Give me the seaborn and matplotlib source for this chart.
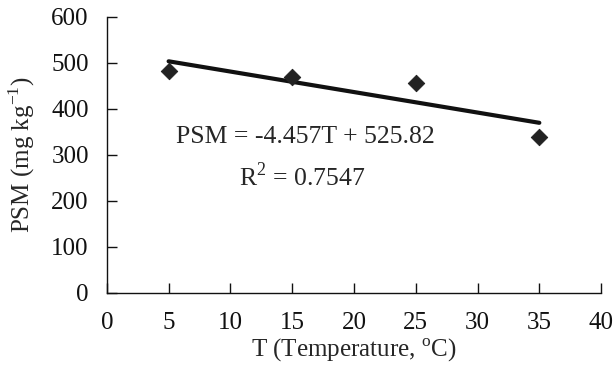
import numpy as np
import pandas as pd
import matplotlib
matplotlib.use("Agg")
import matplotlib.pyplot as plt
import seaborn as sns

# DATA
temp = [5, 15, 25, 35]
psm = [483, 470, 457, 340]
slope = -4.457
intercept = 525.82
r2 = 0.7547
xticks = [0, 5, 10, 15, 20, 25, 30, 35, 40]
yticks = [0, 100, 200, 300, 400, 500, 600]

df = pd.DataFrame({"T": temp, "PSM": psm})
fit_x = np.array([min(temp), max(temp)])
fit = pd.DataFrame({"T": fit_x, "PSM": slope * fit_x + intercept})

sns.set_style("ticks")
plt.rcParams["font.family"] = ["Liberation Serif", "DejaVu Serif"]
plt.rcParams["mathtext.fontset"] = "custom"
plt.rcParams["mathtext.rm"] = "Liberation Serif"

fig = plt.figure(figsize=(6.14, 3.68), dpi=100)
ax = fig.add_axes([0.174, 0.204, 0.805, 0.750])

sns.lineplot(data=fit, x="T", y="PSM", color="#111111", linewidth=3.0, ax=ax)
sns.scatterplot(data=df, x="T", y="PSM", marker="D", s=70, color="#222222",
                edgecolor="#222222", ax=ax, zorder=3)

ax.set_xlim(0, 40)
ax.set_ylim(0, 600)
ax.set_xticks(xticks)
ax.set_yticks(yticks)
ax.tick_params(direction="in", length=7, width=1, labelsize=18, colors="#111111")
ax.tick_params(axis="x", pad=14)
ax.tick_params(axis="y", pad=13)
for s in ["top", "right"]:
    ax.spines[s].set_visible(False)
for s in ["left", "bottom"]:
    ax.spines[s].set_color("#111111")
    ax.spines[s].set_linewidth(1)

ax.set_xlabel("T (Temperature, $^{\\mathrm{o}}$C)", fontsize=18, labelpad=2)
ax.set_ylabel("PSM (mg kg$^{\\mathrm{-1}}$)", fontsize=18, labelpad=10)

ax.text(5.6, 339, f"PSM = {slope}T + {intercept}", fontsize=18.5, va="center", ha="left")
ax.text(10.7, 252, f"R$^{{2}}$ = {r2}", fontsize=18.5, va="center", ha="left")

fig.savefig("out.png", dpi=100)
